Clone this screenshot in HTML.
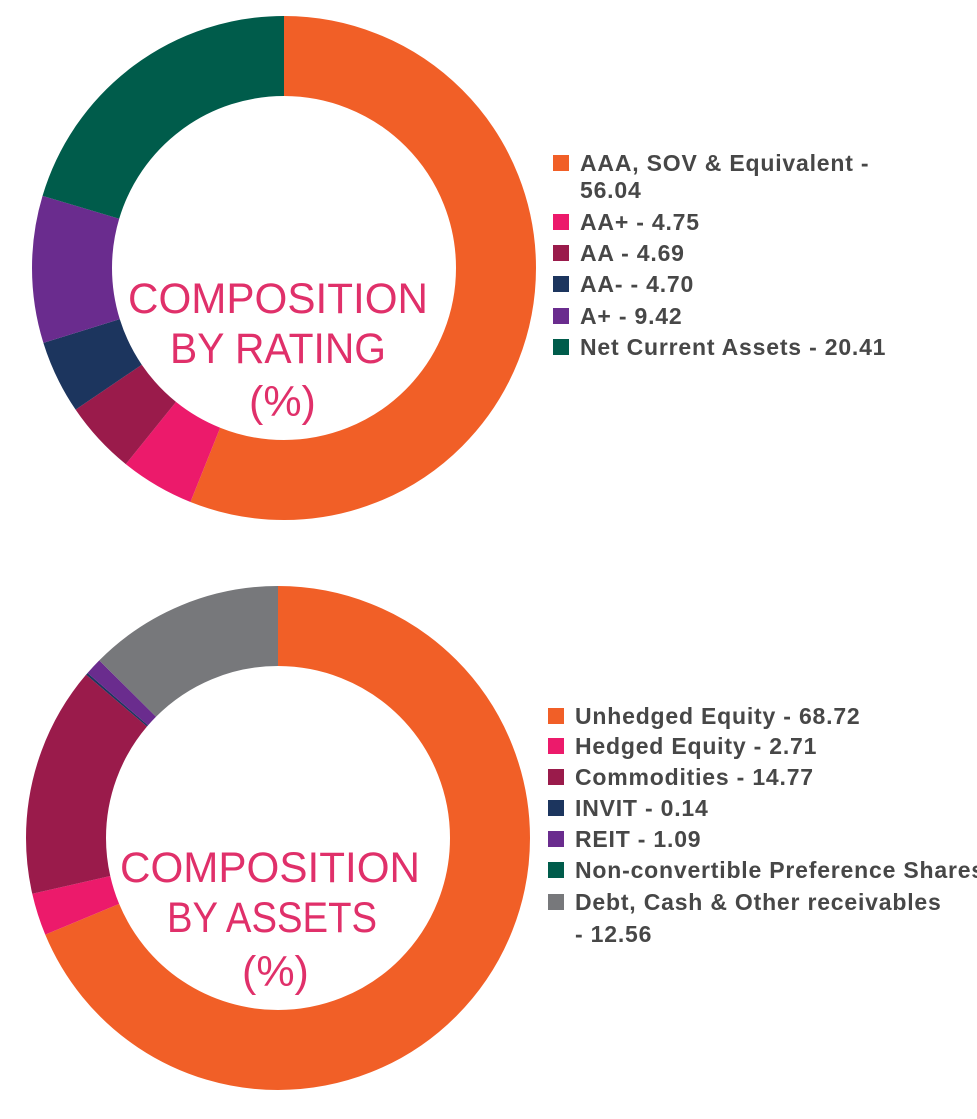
<!DOCTYPE html>
<html><head><meta charset="utf-8"><style>
html,body{margin:0;padding:0;background:#fff;overflow:hidden}
svg{display:block}
.lg{font-family:"Liberation Sans",sans-serif;font-weight:bold;font-size:23px;letter-spacing:0.8px;fill:#474747}
.ct{font-family:"Liberation Sans",sans-serif;font-size:43px;fill:#E0306A}
</style></head><body>
<svg width="977" height="1119" viewBox="0 0 977 1119" xmlns="http://www.w3.org/2000/svg">
<g transform="translate(284,268) rotate(-90)" fill="none" stroke-width="80">
<circle r="212" stroke="#F15F27" stroke-dasharray="746.48 2000" stroke-dashoffset="0"/>
<circle r="212" stroke="#EC1A6B" stroke-dasharray="63.27 2000" stroke-dashoffset="-746.48"/>
<circle r="212" stroke="#9A1B4B" stroke-dasharray="62.47 2000" stroke-dashoffset="-809.75"/>
<circle r="212" stroke="#1C355E" stroke-dasharray="62.60 2000" stroke-dashoffset="-872.22"/>
<circle r="212" stroke="#6A2C8E" stroke-dasharray="125.48 2000" stroke-dashoffset="-934.82"/>
<circle r="212" stroke="#005C4B" stroke-dasharray="271.9 2000" stroke-dashoffset="-1060.30"/>
</g>
<g transform="translate(278,838) rotate(-90)" fill="none" stroke-width="80">
<circle r="212" stroke="#F15F27" stroke-dasharray="915.38 2000" stroke-dashoffset="0"/>
<circle r="212" stroke="#EC1A6B" stroke-dasharray="36.10 2000" stroke-dashoffset="-915.38"/>
<circle r="212" stroke="#9A1B4B" stroke-dasharray="196.74 2000" stroke-dashoffset="-951.48"/>
<circle r="212" stroke="#1C355E" stroke-dasharray="1.86 2000" stroke-dashoffset="-1148.22"/>
<circle r="212" stroke="#6A2C8E" stroke-dasharray="14.52 2000" stroke-dashoffset="-1150.08"/>
<circle r="212" stroke="#77787B" stroke-dasharray="167.5 2000" stroke-dashoffset="-1164.6"/>
</g>
<text class="ct" x="128" y="313" textLength="300" lengthAdjust="spacingAndGlyphs">COMPOSITION</text>
<text class="ct" x="170" y="363" textLength="216" lengthAdjust="spacingAndGlyphs">BY RATING</text>
<text class="ct" x="249" y="416">(%)</text>
<text class="ct" x="120" y="882" textLength="300" lengthAdjust="spacingAndGlyphs">COMPOSITION</text>
<text class="ct" x="167" y="932" textLength="210" lengthAdjust="spacingAndGlyphs">BY ASSETS</text>
<text class="ct" x="242" y="986">(%)</text>

<rect x="553" y="155" width="16" height="16" fill="#F15F27"/>
<text class="lg" x="580" y="171">AAA, SOV &amp; Equivalent -</text>
<text class="lg" x="580" y="198">56.04</text>
<rect x="553" y="214" width="16" height="16" fill="#EC1A6B"/>
<text class="lg" x="580" y="230">AA+ - 4.75</text>
<rect x="553" y="245" width="16" height="16" fill="#9A1B4B"/>
<text class="lg" x="580" y="261">AA - 4.69</text>
<rect x="553" y="276" width="16" height="16" fill="#1C355E"/>
<text class="lg" x="580" y="292">AA- - 4.70</text>
<rect x="553" y="308" width="16" height="16" fill="#6A2C8E"/>
<text class="lg" x="580" y="324">A+ - 9.42</text>
<rect x="553" y="339" width="16" height="16" fill="#005C4B"/>
<text class="lg" x="580" y="355">Net Current Assets - 20.41</text>

<rect x="548" y="708" width="16" height="16" fill="#F15F27"/>
<text class="lg" x="575" y="724">Unhedged Equity - 68.72</text>
<rect x="548" y="738" width="16" height="16" fill="#EC1A6B"/>
<text class="lg" x="575" y="754">Hedged Equity - 2.71</text>
<rect x="548" y="769" width="16" height="16" fill="#9A1B4B"/>
<text class="lg" x="575" y="785">Commodities - 14.77</text>
<rect x="548" y="800" width="16" height="16" fill="#1C355E"/>
<text class="lg" x="575" y="816">INVIT - 0.14</text>
<rect x="548" y="831" width="16" height="16" fill="#6A2C8E"/>
<text class="lg" x="575" y="847">REIT - 1.09</text>
<rect x="548" y="862" width="16" height="16" fill="#005C4B"/>
<text class="lg" x="575" y="878">Non-convertible Preference Shares</text>
<rect x="548" y="894" width="16" height="16" fill="#77787B"/>
<text class="lg" x="575" y="910">Debt, Cash &amp; Other receivables</text>
<text class="lg" x="575" y="942">- 12.56</text>
</svg>
</body></html>
